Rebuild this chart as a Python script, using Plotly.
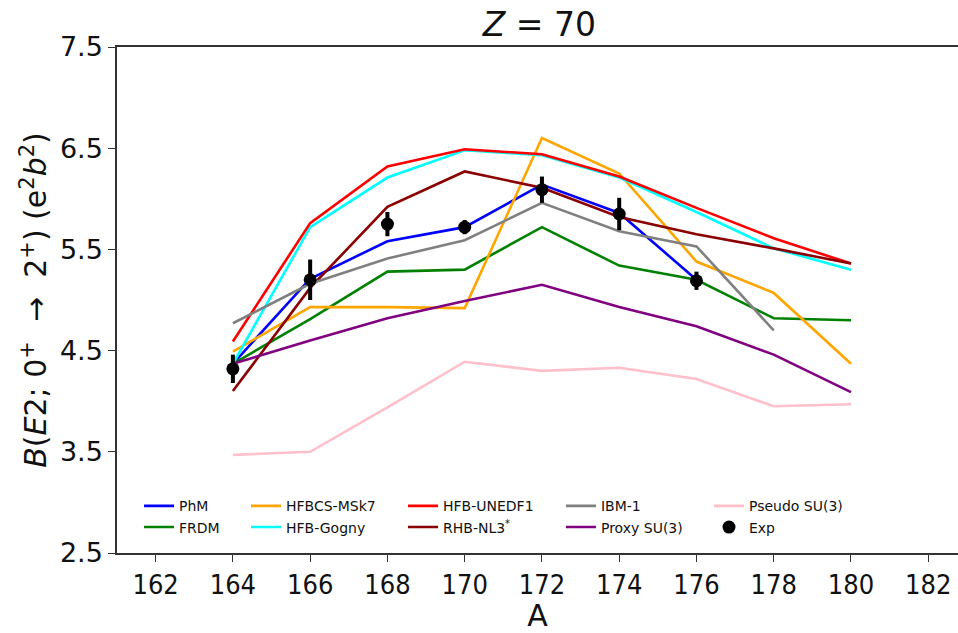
import plotly.graph_objects as go

# Mass numbers of the Yb (Z = 70) isotopes
A_all = [164, 166, 168, 170, 172, 174, 176, 178, 180]
A_phm = [164, 166, 168, 170, 172, 174, 176]
A_ibm = [164, 166, 168, 170, 172, 174, 176, 178]

# B(E2; 0+ -> 2+) in e^2 b^2 for each model
phm = [4.37, 5.21, 5.58, 5.72, 6.14, 5.86, 5.20]
frdm = [4.37, 4.81, 5.28, 5.30, 5.72, 5.34, 5.20, 4.82, 4.80]
hfbcs_msk7 = [4.49, 4.93, 4.93, 4.92, 6.60, 6.25, 5.38, 5.07, 4.37]
hfb_gogny = [4.37, 5.72, 6.21, 6.48, 6.43, 6.21, 5.87, 5.51, 5.30]
hfb_unedf1 = [4.59, 5.76, 6.32, 6.49, 6.44, 6.22, 5.91, 5.61, 5.36]
rhb_nl3 = [4.10, 5.12, 5.92, 6.27, 6.11, 5.82, 5.65, 5.51, 5.36]
ibm1 = [4.77, 5.16, 5.41, 5.59, 5.96, 5.68, 5.53, 4.70]
proxy_su3 = [4.37, 4.60, 4.82, 4.99, 5.15, 4.93, 4.74, 4.46, 4.09]
pseudo_su3 = [3.47, 3.50, 3.94, 4.39, 4.30, 4.33, 4.22, 3.95, 3.97]

# Experimental values with uncertainties
A_exp = [164, 166, 168, 170, 172, 174, 176]
exp_val = [4.32, 5.20, 5.75, 5.72, 6.09, 5.85, 5.19]
exp_err = [0.14, 0.20, 0.12, 0.07, 0.13, 0.16, 0.09]

x_ticks = [162, 164, 166, 168, 170, 172, 174, 176, 178, 180, 182]
y_ticks = [2.5, 3.5, 4.5, 5.5, 6.5, 7.5]

# (name, x, y, colour, legend column) in drawing order
series = [
    ("PhM", A_phm, phm, "#0000ff", "legend"),
    ("FRDM", A_all, frdm, "#008000", "legend"),
    ("HFBCS-MSk7", A_all, hfbcs_msk7, "#ffa500", "legend2"),
    ("HFB-Gogny", A_all, hfb_gogny, "#00ffff", "legend2"),
    ("HFB-UNEDF1", A_all, hfb_unedf1, "#ff0000", "legend3"),
    ("RHB-NL3<sup>*</sup>", A_all, rhb_nl3, "#8b0000", "legend3"),
    ("IBM-1", A_ibm, ibm1, "#808080", "legend4"),
    ("Proxy SU(3)", A_all, proxy_su3, "#800080", "legend4"),
    ("Pseudo SU(3)", A_all, pseudo_su3, "#ffc0cb", "legend5"),
]

FONT = "DejaVu Sans, sans-serif"
FONT_NARROW = "DejaVu Sans Condensed, DejaVu Sans, sans-serif"
TEXT = "#111111"

fig = go.Figure()
for name, xs, ys, color, leg in series:
    fig.add_trace(go.Scatter(
        x=xs, y=ys, mode="lines", name=name,
        line=dict(color=color, width=2.6),
        legend=leg,
    ))

fig.add_trace(go.Scatter(
    x=A_exp, y=exp_val, mode="markers", name="Exp",
    marker=dict(color="black", size=13, symbol="circle"),
    error_y=dict(type="data", array=exp_err, color="black", thickness=4, width=0),
    legend="legend5",
))

axis_common = dict(
    showline=True, linecolor="#333333", linewidth=1.5,
    ticks="outside", ticklen=7, tickwidth=1.2, tickcolor="#333333",
    showgrid=False, zeroline=False,
)

# One legend box per column, two entries each
legend_cols = {"legend": 0.0262, "legend2": 0.1534, "legend3": 0.3401,
               "legend4": 0.5279, "legend5": 0.7039}
legend_layout = {
    key: dict(
        orientation="v", x=xpos, y=0.124, xanchor="left", yanchor="top",
        font=dict(family=FONT, size=14, color=TEXT),
        bgcolor="rgba(0,0,0,0)", itemwidth=30, tracegroupgap=0,
    )
    for key, xpos in legend_cols.items()
}

fig.update_layout(
    width=958, height=633,
    margin=dict(l=117, r=0, t=47, b=80),
    paper_bgcolor="white", plot_bgcolor="white",
    title=dict(
        text="<i>Z</i> = 70", x=0.563, xanchor="center", y=0.962, yanchor="middle",
        font=dict(family=FONT, size=33, color=TEXT),
    ),
    xaxis=dict(
        range=[161, 182.77], tickvals=x_ticks, ticktext=[str(v) for v in x_ticks],
        mirror=True,
        tickfont=dict(family=FONT_NARROW, size=27, color=TEXT),
        title=dict(text="A", font=dict(family=FONT, size=30, color=TEXT), standoff=6),
        **axis_common,
    ),
    yaxis=dict(
        range=[2.5, 7.5], tickvals=y_ticks, ticktext=[f"{v:.1f}" for v in y_ticks],
        mirror=False,
        tickfont=dict(family=FONT, size=27, color=TEXT),
        title=dict(
            text="<i>B</i>(<i>E</i>2;&nbsp;0<sup>+</sup>&nbsp;&nbsp;→&nbsp;&nbsp;2<sup>+</sup>)&nbsp;"
                 "(e<sup>2</sup><i>b</i><sup>2</sup>)",
            font=dict(family=FONT, size=30, color=TEXT), standoff=4,
        ),
        **axis_common,
    ),
    showlegend=True,
    **legend_layout,
)

fig.write_html("out.html")
